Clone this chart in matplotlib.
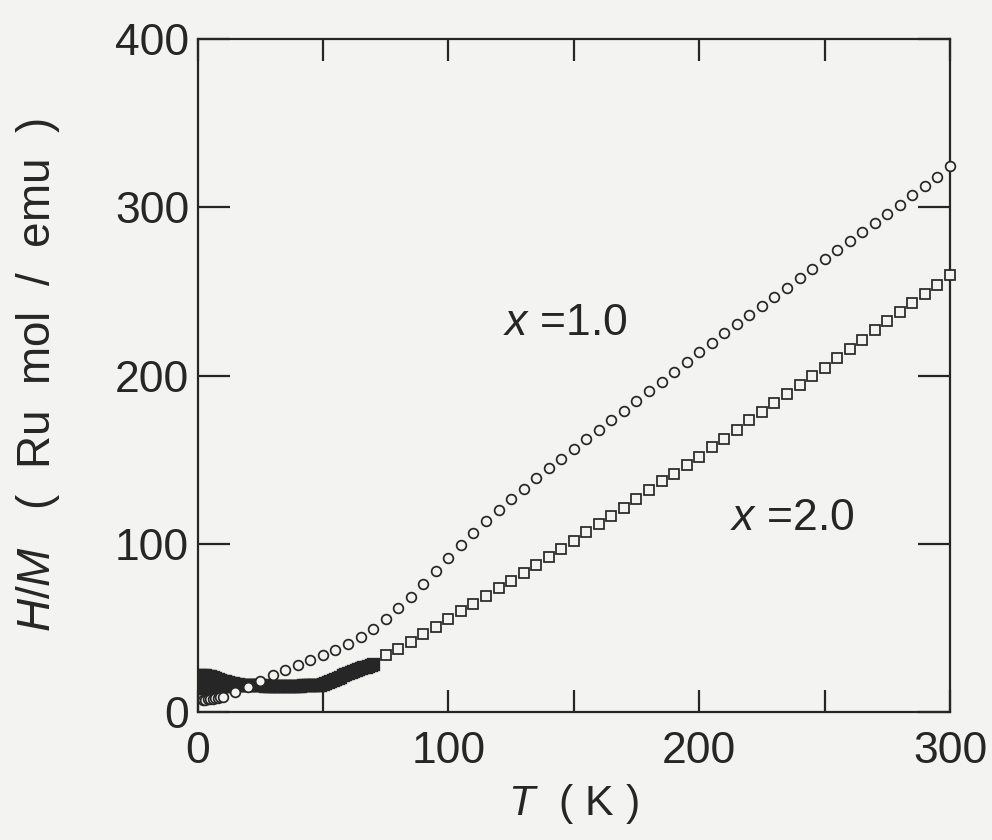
import matplotlib
matplotlib.use("Agg")
import matplotlib.pyplot as plt

plt.rcParams['font.family'] = ['Liberation Sans', 'DejaVu Sans']
plt.rcParams['mathtext.fontset'] = 'custom'
plt.rcParams['mathtext.it'] = 'Liberation Sans:italic'
plt.rcParams['mathtext.rm'] = 'Liberation Sans'

# ---- data: x = 1.0 (open circles) ----
circ_T = [2, 3, 4, 5, 6, 7, 8, 9, 10, 15, 20, 25, 30, 35, 40, 45, 50, 55, 60, 65, 70, 75,
          80, 85, 90, 95, 100, 105, 110, 115, 120, 125, 130, 135, 140, 145, 150, 155, 160,
          165, 170, 175, 180, 185, 190, 195, 200, 205, 210, 215, 220, 225, 230, 235, 240,
          245, 250, 255, 260, 265, 270, 275, 280, 285, 290, 295, 300]
circ_HM = [7.1, 7.3, 7.5, 7.8, 8.0, 8.3, 8.6, 8.9, 9.2, 12.0, 15.0, 18.5, 22.0, 24.9, 27.8,
           31.0, 33.7, 36.7, 40.6, 44.6, 49.5, 55.4,
           61.7, 68.6, 76.2, 83.6, 91.3, 99.4, 106.5, 113.6, 120.1, 126.5, 132.7, 138.8,
           144.8, 150.1, 156.4, 162.0, 167.9, 173.8, 179.1, 185.0, 190.9, 195.9, 202.0,
           208.3, 214.2, 219.5, 225.0, 230.6, 235.9, 241.4, 246.7, 252.2, 258.0, 263.5,
           269.0, 274.4, 279.7, 285.2, 290.7, 296.0, 301.6, 307.3, 312.8, 317.8, 324.3]

# ---- data: x = 2.0 (open squares), sparse part ----
sq_T = [75, 80, 85, 90, 95, 100, 105, 110, 115, 120, 125, 130, 135, 140, 145, 150, 155,
        160, 165, 170, 175, 180, 185, 190, 195, 200, 205, 210, 215, 220, 225, 230, 235,
        240, 245, 250, 255, 260, 265, 270, 275, 280, 285, 290, 295, 300]
sq_HM = [33.7, 37.7, 41.6, 46.2, 50.5, 55.2, 59.9, 64.3, 68.8, 73.5, 78.1, 82.8, 87.4,
         91.9, 96.9, 101.8, 106.7, 111.7, 116.6, 121.5, 126.4, 132.1, 137.1, 141.6, 147.0,
         151.8, 157.4, 162.5, 167.9, 173.6, 178.4, 183.6, 188.9, 194.3, 199.8, 204.7,
         210.2, 215.8, 221.3, 226.8, 232.3, 237.8, 243.3, 248.7, 254.0, 259.6]

# x = 2.0, densely measured low-temperature part
sqd_T = list(range(1, 71))
sqd_HM = [14.0, 14.0, 14.2, 14.3, 14.5, 14.6, 14.8, 15.0, 15.2, 15.4, 15.5, 15.6, 15.7,
          15.8, 16.0, 16.1, 16.2, 16.2, 16.1, 16.0, 16.0, 15.9, 15.9, 15.8, 15.8, 15.8,
          15.7, 15.7, 15.7, 15.6, 15.6, 15.6, 15.6, 15.6, 15.6, 15.6, 15.6, 15.6, 15.7,
          15.7, 15.7, 15.8, 15.8, 15.9, 15.9, 16.0, 16.1, 16.2, 16.3, 16.8, 17.3, 17.8,
          18.4, 19.0, 19.7, 20.3, 21.0, 21.7, 22.3, 23.0, 23.6, 24.2, 24.8, 25.4, 26.0,
          26.5, 27.0, 27.6, 28.2, 28.8]
# upper branch seen at the lowest temperatures
squ_T = list(range(1, 17))
squ_HM = [22.0, 22.0, 21.8, 21.6, 21.3, 20.8, 20.3, 19.8, 19.2, 18.7, 18.2, 17.7, 17.3,
          17.0, 16.7, 16.5]

x_ticks = [0, 100, 200, 300]
y_ticks = [0, 100, 200, 300, 400]
labels = ['$x$ =1.0', '$x$ =2.0']

ink = '#262626'
bg = '#f3f3f1'

fig = plt.figure(figsize=(9.92, 8.40), dpi=100, facecolor=bg)
ax = fig.add_axes([197.5 / 992, 1 - 712 / 840, (950 - 197.5) / 992, (712 - 39) / 840])
ax.set_facecolor(bg)

ms = 7.0
ax.plot(sqd_T, sqd_HM, linestyle='none', marker='s', ms=ms, mfc='none', mec=ink, mew=2.4,
        zorder=2)
ax.plot(squ_T, squ_HM, linestyle='none', marker='s', ms=ms, mfc='none', mec=ink, mew=2.4,
        zorder=2)
ax.plot(sq_T, sq_HM, linestyle='none', marker='s', ms=ms, mfc=bg, mec=ink, mew=1.25,
        clip_on=False, zorder=3)
ax.plot(circ_T, circ_HM, linestyle='none', marker='o', ms=ms, mfc=bg, mec=ink, mew=1.25,
        clip_on=False, zorder=4)

ax.set_xlim(0, 300)
ax.set_ylim(0, 400)
ax.set_xticks(x_ticks)
ax.set_xticks([50, 150, 250], minor=True)
ax.set_yticks(y_ticks)

ax.tick_params(which='both', direction='in', top=True, right=True, colors=ink,
               labelsize=32, width=1.6)
ax.tick_params(axis='x', which='both', length=16, pad=14)
ax.tick_params(axis='y', which='major', length=23, pad=6)
for s in ax.spines.values():
    s.set_linewidth(1.6)
    s.set_color(ink)

ax.set_xlabel('$T$  ( K )', fontsize=31, color=ink, labelpad=7)
ax.set_ylabel('$H/M$   (  Ru  mol  /  emu  )', fontsize=33, color=ink)
ax.yaxis.set_label_coords(-0.18, 0.5)

ax.text(146.5, 231, labels[0], fontsize=32, color=ink, ha='center', va='center')
ax.text(237, 115, labels[1], fontsize=32, color=ink, ha='center', va='center')

fig.savefig('out.png', dpi=100, facecolor=bg)
